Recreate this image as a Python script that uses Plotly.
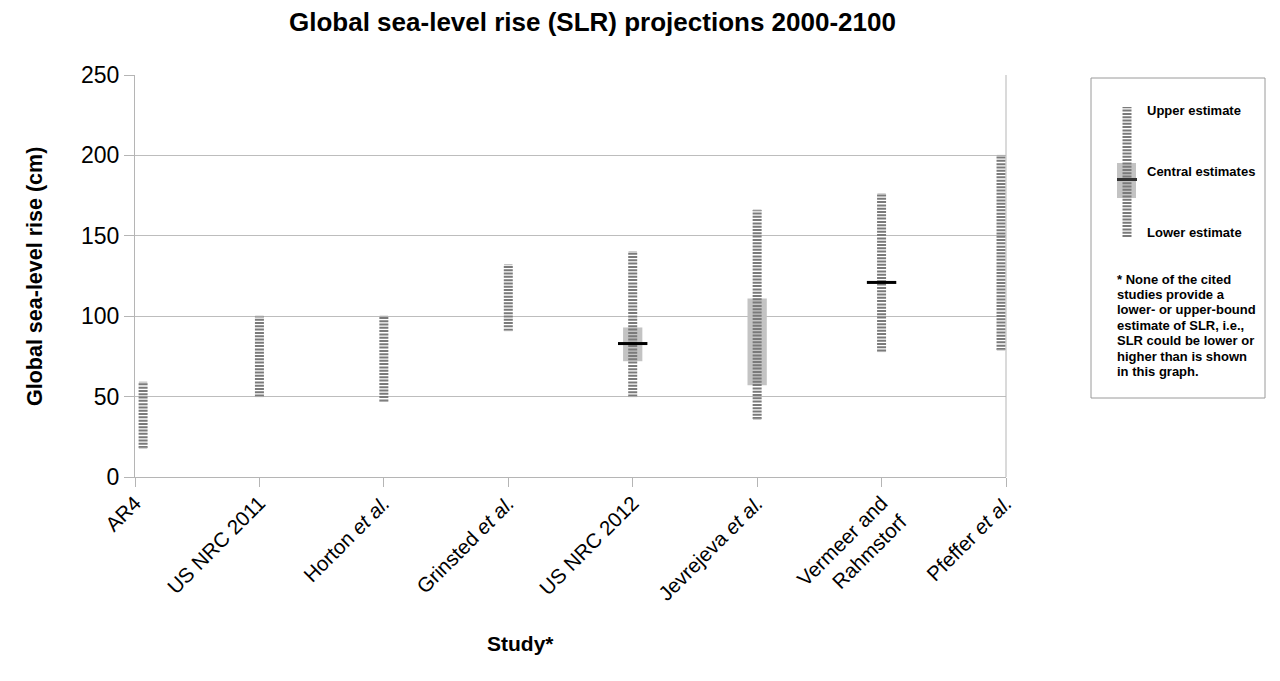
import plotly.graph_objects as go

# ---- data ----
studies = ["AR4", "US NRC 2011", "Horton <i>et al.</i>", "Grinsted <i>et al.</i>",
           "US NRC 2012", "Jevrejeva <i>et al.</i>", "Vermeer and<br>Rahmstorf",
           "Pfeffer <i>et al.</i>"]
lower_est = [18, 50, 47, 91, 50, 36, 78, 79]
upper_est = [59, 100, 100, 132, 140, 166, 176, 200]
central_low = [None, None, None, None, 72, 57, None, None]
central_high = [None, None, None, None, 93, 111, None, None]
central_mid = [None, None, None, None, 83, None, 121, None]
y_ticks = [0, 50, 100, 150, 200, 250]
note_lines = ["* None of the cited", "studies provide a", "lower- or upper-bound",
              "estimate of SLR, i.e.,", "SLR could be lower or", "higher than is shown",
              "in this graph."]

n = len(studies)
idx = list(range(n))
# bars at the two plot edges are nudged inwards, as in the reference
xpos = [i + (0.065 if i == 0 else (-0.04 if i == n - 1 else 0)) for i in idx]

STRIPE = "#7a7a7a"
DASH = "2px,1.3px"
FONT = "Liberation Sans, Arial, sans-serif"

fig = go.Figure()

# central-estimate boxes
box_x, box_base, box_h = [], [], []
for x, lo, hi in zip(xpos, central_low, central_high):
    if lo is not None and hi is not None:
        box_x.append(x)
        box_base.append(lo)
        box_h.append(hi - lo)
fig.add_trace(go.Bar(x=box_x, y=box_h, base=box_base, width=0.155,
                     marker=dict(color="#c3c3c3", line=dict(width=0)),
                     showlegend=False, hoverinfo="skip"))

# lower-to-upper striped ranges
lx, ly = [], []
for x, lo, hi in zip(xpos, lower_est, upper_est):
    lx += [x, x, None]
    ly += [lo, hi, None]
fig.add_trace(go.Scatter(x=lx, y=ly, mode="lines",
                         line=dict(color=STRIPE, width=9, dash=DASH),
                         showlegend=False, hoverinfo="skip"))

# small end caps at the range ends
fig.add_trace(go.Scatter(x=xpos + xpos, y=upper_est + lower_est, mode="markers",
                         marker=dict(symbol="line-ew", size=6,
                                     line=dict(color="#b0b0b0", width=1)),
                         showlegend=False, hoverinfo="skip"))

# central lines
cx = [x for x, c in zip(xpos, central_mid) if c is not None]
cy = [c for c in central_mid if c is not None]
fig.add_trace(go.Scatter(x=cx, y=cy, mode="markers",
                         marker=dict(symbol="line-ew", size=21,
                                     line=dict(color="black", width=3)),
                         showlegend=False, hoverinfo="skip"))

# page has an 8px body margin: figure is 1264x665, coordinates below are in
# screenshot pixels and converted with the offset
OFF = 8
W, H = 1264, 665
L, T = 135 - OFF, 75 - OFF
R = W - (1006 - OFF)
B = H - (477 - OFF)
pw = W - L - R
ph = H - T - B


def px(xs):
    return (xs - OFF - L) / pw


def py(ys):
    return (H - B - (ys - OFF)) / ph


shapes = [
    dict(type="line", xref="paper", yref="paper", x0=1, x1=1, y0=0, y1=1,
         line=dict(color="#b5b5b5", width=1)),
    dict(type="rect", xref="paper", yref="paper", x0=px(1091), x1=px(1265),
         y0=py(398), y1=py(78), line=dict(color="#9a9a9a", width=1),
         fillcolor="white", layer="below"),
    dict(type="rect", xref="paper", yref="paper", x0=px(1117), x1=px(1136),
         y0=py(198), y1=py(163), line=dict(width=0), fillcolor="#c3c3c3"),
    dict(type="line", xref="paper", yref="paper", x0=px(1127), x1=px(1127),
         y0=py(237), y1=py(107), line=dict(color=STRIPE, width=9, dash=DASH)),
    dict(type="line", xref="paper", yref="paper", x0=px(1117), x1=px(1137),
         y0=py(179.5), y1=py(179.5), line=dict(color="#333333", width=3)),
]

ann = [
    dict(text="<b>Global sea-level rise (SLR) projections 2000-2100</b>",
         xref="paper", yref="paper", x=px(592), y=py(22), showarrow=False,
         xanchor="center", yanchor="middle",
         font=dict(size=26, color="black", family=FONT)),
    dict(text="<b>Global sea-level rise (cm)</b>", textangle=-90,
         xref="paper", yref="paper", x=px(35), y=py(277), showarrow=False,
         xanchor="center", yanchor="middle",
         font=dict(size=21.5, color="black", family=FONT)),
    dict(text="<b>Study*</b>",
         xref="paper", yref="paper", x=px(520), y=py(643), showarrow=False,
         xanchor="center", yanchor="middle",
         font=dict(size=21, color="black", family=FONT)),
]
for txt, yy in [("Upper estimate", 110), ("Central estimates", 171), ("Lower estimate", 232)]:
    ann.append(dict(text="<b>%s</b>" % txt, xref="paper", yref="paper",
                    x=px(1145), y=py(yy), showarrow=False, xanchor="left",
                    yanchor="middle", font=dict(size=13, color="black", family=FONT)))
for k, line in enumerate(note_lines):
    ann.append(dict(text="<b>%s</b>" % line, xref="paper", yref="paper",
                    x=px(1115), y=py(279 + 15.4 * k), showarrow=False, xanchor="left",
                    yanchor="middle", font=dict(size=13, color="black", family=FONT)))

fig.update_layout(
    width=W, height=H,
    margin=dict(l=L, r=R, t=T, b=B, autoexpand=False),
    paper_bgcolor="white", plot_bgcolor="white",
    font=dict(family=FONT, color="black"),
    showlegend=False,
    shapes=shapes, annotations=ann,
    xaxis=dict(range=[0, n - 1], tickvals=idx, ticktext=studies,
               tickangle=-45, tickfont=dict(size=20.5, family=FONT),
               showgrid=False, zeroline=False, showline=True,
               linecolor="#b5b5b5", ticks="outside", ticklen=9,
               tickcolor="#b5b5b5", ticklabelstandoff=-4),
    yaxis=dict(range=[0, 250], tickvals=y_ticks, tickfont=dict(size=23, family=FONT),
               showgrid=True, gridcolor="#bdbdbd", zeroline=False, showline=True,
               linecolor="#b5b5b5", ticks="outside", ticklen=10,
               tickcolor="#b5b5b5"),
)

fig.write_html("out.html")
